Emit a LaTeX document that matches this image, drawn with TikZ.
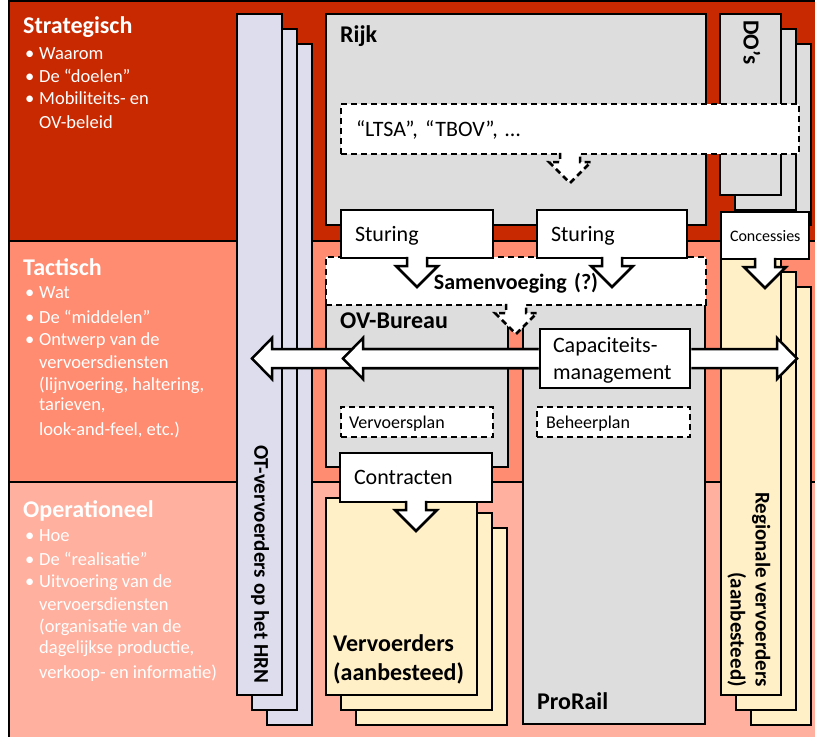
\documentclass[tikz,border=0pt]{standalone}
\usepackage{fontspec}
\setmainfont{Carlito}
\usepackage{tikz}
\usetikzlibrary{calc}
\usepackage{xcolor}
\definecolor{stratred}{RGB}{200,41,0}
\definecolor{tactsalmon}{RGB}{255,139,112}
\definecolor{operpink}{RGB}{255,176,158}
\definecolor{otlilac}{RGB}{221,221,238}
\definecolor{boxgray}{RGB}{221,221,221}
\definecolor{vervcream}{RGB}{255,240,200}

\newcommand{\blt}{\llap{\makebox[14pt][l]{•}}}
% block arrow hanging under a box (#1 = box node, #2 = style)
\newcommand{\dropper}[2]{%
  \draw[#2] ($(#1.south)+(-10,-1.2)$) -- ($(#1.south)+(-10,8)$) -- ($(#1.south)+(-21,8)$)
    -- ($(#1.south)+(0,29)$) -- ($(#1.south)+(21,8)$) -- ($(#1.south)+(10,8)$)
    -- ($(#1.south)+(10,-1.2)$);}
% horizontal block arrow (#1 = start anchor, #2 = tip, #3 = +1 points left, -1 points right)
\newcommand{\fatarrow}[3]{%
  \draw[blockarrow] ($(#1)+({-1.3*#3},-9.5)$) -- ($(#2)+({20*#3},-9.5)$)
    -- ($(#2)+({20*#3},-20.5)$) -- (#2) -- ($(#2)+({20*#3},20.5)$)
    -- ($(#2)+({20*#3},9.5)$) -- ($(#1)+({-1.3*#3},9.5)$);}

\begin{document}
\begin{tikzpicture}[
  x=1pt, y=-1pt,
  font=\fontsize{22}{26}\selectfont,
  band/.style={draw=black, line width=2.5pt},
  page/.style={draw=black, line width=2.5pt},
  wbox/.style={draw=black, fill=white, line width=2.5pt, anchor=north west,
               inner xsep=14pt, inner ysep=0pt, outer sep=0pt,
               align=left, text depth=0pt},
  dbox/.style={wbox, dash pattern=on 6pt off 4pt},
  drop/.style={draw=black, fill=white, line width=2.5pt},
  ddrop/.style={drop, dash pattern=on 6pt off 4pt},
  blockarrow/.style={draw=black, fill=white, line width=2.5pt},
  head/.style={anchor=base west, inner sep=0pt, text=white,
               font=\fontsize{24}{28}\selectfont\bfseries},
  item/.style={anchor=base west, inner sep=0pt, text=white,
               font=\fontsize{18.5}{22}\selectfont},
  lbl/.style={anchor=base west, inner sep=0pt,
              font=\fontsize{24}{28}\selectfont\bfseries},
  vlbl/.style={rotate=-90, inner sep=0pt,
               font=\fontsize{21}{25}\selectfont\bfseries},
]
\useasboundingbox (0,0) rectangle (815,737);
\clip (0,0) rectangle (815,737);

%% --- Bands ---
\draw[band, fill=stratred] (9,1) rectangle (830,241);
\draw[band, fill=tactsalmon] (9,241) rectangle (830,482);
\draw[band, fill=operpink] (9,482) rectangle (830,750);

%% --- Band texts ---
\node[head] (strat) at (23,33) {Strategisch};
\foreach \y/\t [count=\i] in {59/{\blt Waarom}, 82/{\blt De “doelen”},
    104/{\blt Mobiliteits- en}, 128/{OV-beleid}}{
  \node[item] (sl\i) at (39,\y) {\t};
}
\node[head] (tact) at (23,275) {Tactisch};
\foreach \y/\t [count=\i] in {298/{\blt Wat}, 323/{\blt De “middelen”},
    345/{\blt Ontwerp van de}, 368/{vervoersdiensten},
    390/{(lijnvoering, haltering,}, 410/{tarieven,}, 435/{look-and-feel, etc.)}}{
  \node[item] (tl\i) at (39,\y) {\t};
}
\node[head] (oper) at (23,517) {Operationeel};
\foreach \y/\t [count=\i] in {541/{\blt Hoe}, 565/{\blt De “realisatie”},
    587/{\blt Uitvoering van de}, 610/{vervoersdiensten},
    632/{(organisatie van de}, 653/{dagelijkse productie,},
    678/{verkoop- en informatie)}}{
  \node[item] (ol\i) at (39,\y) {\t};
}

%% --- OT-vervoerders stack ---
\foreach \k in {2,1,0}
  \draw[page, fill=otlilac] ({237+15*\k},{14+15*\k}) rectangle ++(45,681);
\node[vlbl, anchor=west] (otlab) at (260,445) {OT-vervoerders op het HRN};

%% --- Rijk and DO's ---
\draw[page, fill=boxgray] (326,14) rectangle (706,225);
\node[lbl] (rijk) at (340,42) {Rijk};
\foreach \k in {2,1,0}
  \draw[page, fill=boxgray] ({720+15*\k},{14+15*\k}) rectangle ++(61,181);
\node[vlbl, anchor=west, font=\fontsize{23}{28}\selectfont\bfseries] (dos) at (752,20) {DO’s};

\node[dbox, inner xsep=15pt, text width=428pt, minimum height=50pt] (ltsa) at (341,104) {“LTSA”, “TBOV”, …};
\dropper{ltsa}{ddrop}

%% --- OV-Bureau and ProRail ---
\draw[page, fill=boxgray] (326,280) rectangle (508,467);
\node[lbl] (ovb) at (340,328) {OV-Bureau};
\draw[page, fill=boxgray] (523,280) rectangle (705,724);
\node[lbl] (prorail) at (537,709) {ProRail};

%% --- Vervoerders (aanbesteed) ---
\foreach \k in {2,1,0}
  \draw[page, fill=vervcream] ({326+15*\k},{498+15*\k}) rectangle ++(151,197);
\node[lbl] (verv1) at (333,651) {Vervoerders};
\node[lbl] (verv2) at (333,680) {(aanbesteed)};

%% --- Regionale vervoerders ---
\foreach \k in {2,1,0}
  \draw[page, fill=vervcream] ({721+15*\k},{257+15*\k}) rectangle ++(60,438);
\node[vlbl, align=right, anchor=east] (regio) at (749,687) {Regionale vervoerders\\(aanbesteed)};

%% --- Samenvoeging and Sturing ---
\node[dbox, align=center, text width=352pt, minimum height=48pt,
      font=\fontsize{22}{26}\selectfont\bfseries] (samen) at (326,257) {Samenvoeging (?)};
\dropper{samen}{ddrop}
\node[wbox, text width=124pt, minimum height=48pt] (stur1) at (341,210) {Sturing};
\dropper{stur1}{drop}
\node[wbox, text width=122pt, minimum height=48pt] (stur2) at (537,210) {Sturing};
\dropper{stur2}{drop}
\node[wbox, inner xsep=9pt, text width=70pt, align=center, minimum height=47pt,
      font=\fontsize{16}{19}\selectfont] (conc) at (721,212) {Concessies};
\dropper{conc}{drop}

%% --- Capaciteitsmanagement ---
\node[wbox, inner xsep=13pt, text width=124pt, minimum height=59pt,
      text height=15pt, text depth=27pt,
      font=\fontsize{22}{27}\selectfont] (cap) at (540,329) {Capaciteits-\\management};
\coordinate (otTip) at ($(cap.west)+(-288,0)$);
\coordinate (ovTip) at ($(cap.west)+(-197,0)$);
\coordinate (regTip) at ($(cap.east)+(107,0)$);
\fatarrow{cap.west}{otTip}{1}
\fatarrow{cap.west}{ovTip}{1}
\fatarrow{cap.east}{regTip}{-1}

%% --- Plans and contracts ---
\node[dbox, inner xsep=8pt, text width=136pt, minimum height=30pt,
      font=\fontsize{18}{21}\selectfont] (vplan) at (341,407) {Vervoersplan};
\node[dbox, inner xsep=9pt, text width=135pt, minimum height=30pt,
      font=\fontsize{18}{21}\selectfont] (bplan) at (537,407) {Beheerplan};
\node[wbox, text width=124pt, minimum height=49pt] (contr) at (340,453) {Contracten};
\dropper{contr}{drop}

\end{tikzpicture}
\end{document}
